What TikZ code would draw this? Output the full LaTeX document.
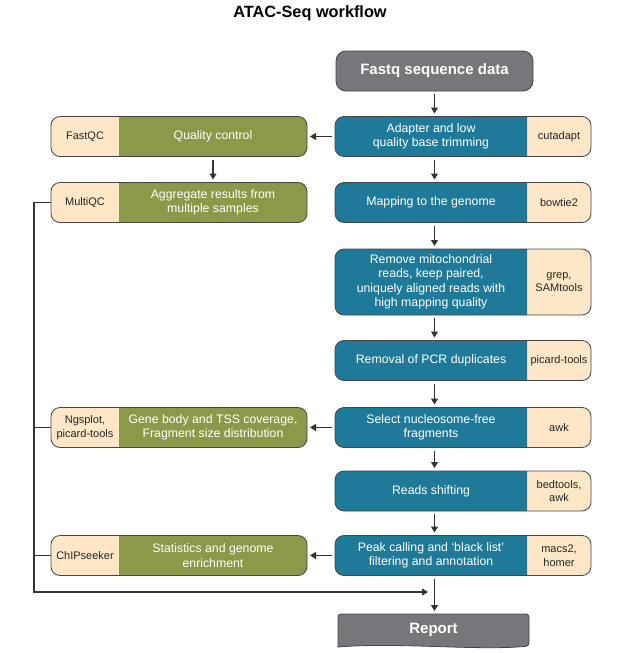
\documentclass[tikz,border=0pt]{standalone}
\usepackage{fontspec}
\setmainfont{Liberation Sans}
\usetikzlibrary{arrows.meta,backgrounds}
\definecolor{bluec}{HTML}{1E7A98}
\definecolor{greenc}{HTML}{8A9A48}
\definecolor{beigec}{HTML}{FDE7C7}
\definecolor{grayc}{HTML}{76777A}
\definecolor{bordc}{HTML}{454545}
\definecolor{linec}{HTML}{333333}
\begin{document}
\begin{tikzpicture}[x=1pt,y=-1pt,
  mainbox/.style={inner sep=0pt,outer sep=0pt,minimum height=40pt,align=center,text=white,font=\fontsize{12.3}{14.5}\selectfont},
  bluebox/.style={mainbox,minimum width=192pt},
  greenbox/.style={mainbox,minimum width=188pt},
  toolbox/.style={inner sep=0pt,outer sep=0pt,minimum height=40pt,align=center,text=black!85,font=\fontsize{11}{13.5}\selectfont},
  rtool/.style={toolbox,minimum width=64pt},
  ltool/.style={toolbox,minimum width=68pt},
  endbox/.style={inner sep=0pt,outer sep=0pt,text=white,font=\bfseries\fontsize{15}{18}\selectfont},
  arr/.style={draw=linec,line width=1.2pt,-{Triangle[length=6pt,width=7pt]},shorten <=3pt,shorten >=3pt},
  bus/.style={draw=linec,line width=1.1pt},
  bord/.style={draw=bordc,line width=0.8pt,rounded corners=9pt},
]
\useasboundingbox (0,0) rectangle (620,653);

\node[font=\bfseries\fontsize{16.3}{19}\selectfont] (title) at (310,13) {ATAC-Seq workflow};

\node[endbox,minimum width=197pt,minimum height=40pt,fill=grayc,draw=bordc,line width=0.8pt,rounded corners=10pt] (fastq) at (434.5,71) {Fastq sequence data};

% right column
\node[bluebox] (trim) at (431,136.5) {Adapter and low\\quality base trimming};
\node[rtool,anchor=west] (trimt) at (trim.east) {cutadapt};
\node[bluebox] (map) at (431,202.5) {Mapping to the genome};
\node[rtool,anchor=west] (mapt) at (map.east) {bowtie2};
\node[bluebox,minimum height=66pt] (filt) at (431,282) {Remove mitochondrial\\reads, keep paired,\\uniquely aligned reads with\\high mapping quality};
\node[rtool,minimum height=66pt,anchor=west] (filtt) at (filt.east) {grep,\\SAMtools};
\node[bluebox] (dedup) at (431,360.5) {Removal of PCR duplicates};
\node[rtool,anchor=west] (dedupt) at (dedup.east) {picard-tools};
\node[bluebox] (nfr) at (431,427.5) {Select nucleosome-free\\fragments};
\node[rtool,anchor=west] (nfrt) at (nfr.east) {awk};
\node[bluebox] (shift) at (431,491) {Reads shifting};
\node[rtool,anchor=west] (shiftt) at (shift.east) {bedtools,\\awk};
\node[bluebox] (peak) at (431,555.5) {Peak calling and ‘black list’\\filtering and annotation};
\node[rtool,anchor=west] (peakt) at (peak.east) {macs2,\\homer};

\node[endbox,minimum width=191pt,minimum height=32pt] (report) at (433.5,630) {Report};

% left column
\node[greenbox] (qc) at (213,136.5) {Quality control};
\node[ltool,anchor=east] (qct) at (qc.west) {FastQC};
\node[greenbox] (agg) at (213,202.5) {Aggregate results from\\multiple samples};
\node[ltool,anchor=east] (aggt) at (agg.west) {MultiQC};
\node[greenbox] (cov) at (213,427.5) {Gene body and TSS coverage,\\Fragment size distribution};
\node[ltool,anchor=east] (covt) at (cov.west) {Ngsplot,\\picard-tools};
\node[greenbox] (stat) at (213,555.5) {Statistics and genome\\enrichment};
\node[ltool,anchor=east] (statt) at (stat.west) {ChIPseeker};

% backgrounds
\begin{scope}[on background layer]
\foreach \m/\t in {trim/trimt,map/mapt,filt/filtt,dedup/dedupt,nfr/nfrt,shift/shiftt,peak/peakt}{
  \fill[beigec,rounded corners=9pt] (\m.north west) rectangle (\t.south east);
  \begin{scope}
    \clip (\m.north west) rectangle (\m.south east);
    \fill[bluec,rounded corners=9pt] (\m.north west) rectangle (\t.south east);
  \end{scope}
  \draw[bord] (\m.north west) rectangle (\t.south east);
}
\foreach \m/\t in {qc/qct,agg/aggt,cov/covt,stat/statt}{
  \fill[beigec,rounded corners=9pt] (\t.north west) rectangle (\m.south east);
  \begin{scope}
    \clip (\m.north west) rectangle (\m.south east);
    \fill[greenc,rounded corners=9pt] (\t.north west) rectangle (\m.south east);
  \end{scope}
  \draw[bord] (\t.north west) rectangle (\m.south east);
}
\path[fill=grayc,draw=bordc,line width=0.8pt]
  (report.south west) [rounded corners=3pt] -- (report.north west) -- (report.north east) -- (report.south east)
  [sharp corners] .. controls +(-50,5) and +(60,-5) .. ([yshift=-1pt]report.south west) -- cycle;
\end{scope}

% main flow
\draw[arr] (fastq.south) -- (fastq.south |- trim.north);
\draw[arr] (trim.south -| fastq.south) -- (map.north -| fastq.south);
\draw[arr] (map.south -| fastq.south) -- (filt.north -| fastq.south);
\draw[arr] (filt.south -| fastq.south) -- (dedup.north -| fastq.south);
\draw[arr] (dedup.south -| fastq.south) -- (nfr.north -| fastq.south);
\draw[arr] (nfr.south -| fastq.south) -- (shift.north -| fastq.south);
\draw[arr] (shift.south -| fastq.south) -- (peak.north -| fastq.south);
\draw[arr] (peak.south -| fastq.south) -- (report.north -| fastq.south);

% QC branch
\draw[arr] (trim.west) -- (qc.east);
\draw[arr] (qc.south) -- (agg.north);
\draw[arr] (nfr.west) -- (cov.east);
\draw[arr] (peak.west) -- (stat.east);

% bus to report
\coordinate (busx) at (34,0);
\coordinate (busend) at (431,592);
\draw[bus,-{Triangle[length=6pt,width=7pt]},shorten >=3pt] (aggt.west) -| (busx |- busend) -- (busend);
\draw[bus] (covt.west) -- (covt.west -| busx);
\draw[bus] (statt.west) -- (statt.west -| busx);
\end{tikzpicture}
\end{document}
